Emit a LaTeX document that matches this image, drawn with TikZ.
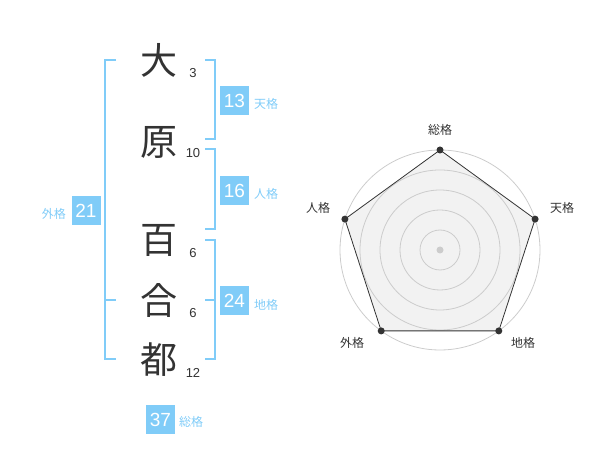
\documentclass[tikz,border=0pt]{standalone}
\usepackage{fontspec}
\setmainfont{Noto Sans CJK JP}
\newfontfamily\numfont{Liberation Sans}
\definecolor{kblue}{RGB}{128,204,248}
\definecolor{kdark}{RGB}{51,51,51}
\definecolor{kgrid}{RGB}{204,204,204}
\definecolor{kfill}{RGB}{242,242,242}
\begin{document}
\begin{tikzpicture}[x=1pt,y=-1pt,
  kanji/.style={text=kdark,font=\fontsize{37}{37}\selectfont,inner sep=0pt},
  stroke/.style={text=kdark,font=\numfont\fontsize{13}{13}\selectfont,inner sep=0pt},
  valbox/.style={fill=kblue,text=white,font=\numfont\fontsize{19}{19}\selectfont,minimum width=29pt,minimum height=29pt,inner sep=0pt},
  vlabel/.style={text=kblue,font=\fontsize{12}{12}\selectfont,inner sep=0pt},
  bracket/.style={draw=kblue,line width=2pt},
  rlabel/.style={text=kdark,font=\fontsize{12}{12}\selectfont,inner sep=0pt},
  vdot/.style={circle,fill=kdark,inner sep=0pt,minimum size=7pt},
  grid/.style={draw=kgrid,line width=0.8pt}]
\useasboundingbox (0,0) rectangle (600,470);
% kanji
\node[kanji] (c1) at (159,60) {大};
\node[kanji] (c2) at (159,142) {原};
\node[kanji] (c3) at (159,240) {百};
\node[kanji] (c4) at (159,300) {合};
\node[kanji] (c5) at (159,360) {都};
\node[stroke] (n1) at (193,73) {3};
\node[stroke] (n2) at (193,153) {10};
\node[stroke] (n3) at (193,253) {6};
\node[stroke] (n4) at (193,313) {6};
\node[stroke] (n5) at (193,373) {12};
% brackets
\draw[bracket] (116,60) -- (105,60) -- (105,359) -- (116,359);
\draw[bracket] (105,300) -- (116,300);
\draw[bracket] (205,60) -- (215,60) -- (215,139) -- (205,139);
\draw[bracket] (205,149) -- (215,149) -- (215,229) -- (205,229);
\draw[bracket] (205,240) -- (215,240) -- (215,359) -- (205,359);
\draw[bracket] (205,300) -- (215,300);
% boxes
\node[valbox] (b13) at (234.5,100.5) {13};
\node[vlabel,anchor=west] (l13) at (254,104) {天格};
\node[valbox] (b16) at (234.5,190.5) {16};
\node[vlabel,anchor=west] (l16) at (254,194) {人格};
\node[valbox] (b24) at (234.5,300.5) {24};
\node[vlabel,anchor=west] (l24) at (254,305) {地格};
\node[valbox] (b21) at (86,210.5) {21};
\node[vlabel,anchor=east] (l21) at (66,214) {外格};
\node[valbox] (b37) at (160.5,419.5) {37};
\node[vlabel,anchor=west] (l37) at (179,422) {総格};
% radar
\coordinate (ctr) at (440,250);
\coordinate (vS) at (440,150);
\coordinate (vT) at (535.1,219.1);
\coordinate (vC) at (498.8,330.9);
\coordinate (vG) at (381.2,330.9);
\coordinate (vJ) at (344.9,219.1);
\filldraw[fill=kfill,draw=none] (vS) -- (vT) -- (vC) -- (vG) -- (vJ) -- cycle;
\foreach \r in {20,40,60,80,100} \draw[grid] (ctr) circle[radius=\r];
\fill[kgrid] (ctr) circle[radius=3.5];
\draw[kdark,line width=0.8pt] (vS) -- (vT) -- (vC) -- (vG) -- (vJ) -- cycle;
\foreach \v in {vS,vT,vC,vG,vJ} \node[vdot] at (\v) {};
\node[rlabel] (rS) at (440,130) {総格};
\node[rlabel] (rT) at (562,208) {天格};
\node[rlabel] (rC) at (523,343) {地格};
\node[rlabel] (rG) at (352,343) {外格};
\node[rlabel] (rJ) at (318,208) {人格};
\end{tikzpicture}
\end{document}
